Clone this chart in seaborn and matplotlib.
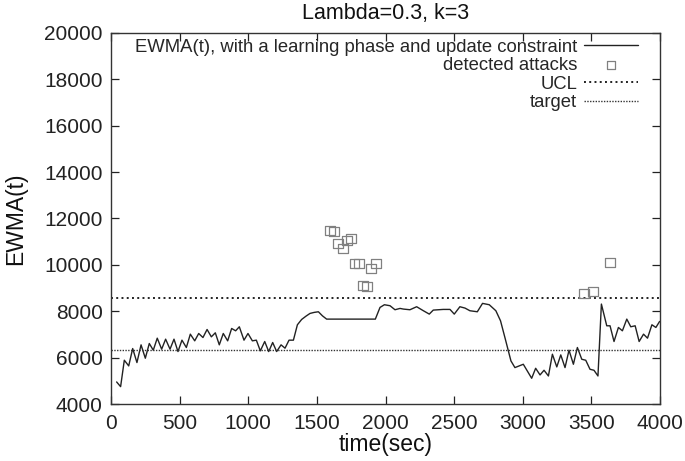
import matplotlib
matplotlib.use("Agg")
import matplotlib.pyplot as plt
import seaborn as sns
import pandas as pd

# ---- data ----
ewma_t = [41, 70, 97, 129, 158, 189, 219, 250, 279, 308, 337, 369, 398, 430, 459,
          488, 517, 549, 578, 610, 639, 670, 700, 731, 760, 789, 818, 850, 879, 908,
          935, 969, 998, 1030, 1059, 1088, 1120, 1149, 1178, 1207, 1239, 1268, 1297,
          1329, 1358, 1389, 1421, 1450, 1480, 1511, 1541, 1571, 1650, 1750, 1850,
          1926, 1960, 1992, 2033, 2069, 2106, 2130, 2178, 2227, 2276, 2319, 2348,
          2421, 2470, 2501, 2542, 2579, 2615, 2669, 2707, 2756, 2804, 2838, 2870,
          2914, 2943, 3004, 3065, 3094, 3126, 3155, 3187, 3216, 3248, 3277, 3308,
          3337, 3369, 3398, 3430, 3459, 3490, 3519, 3548, 3573, 3612, 3636, 3665,
          3697, 3726, 3758, 3787, 3819, 3848, 3880, 3909, 3941, 3970, 3997]
ewma_v = [4951, 4749, 5888, 5643, 6392, 5787, 6551, 5974, 6609, 6320, 6839, 6364,
          6796, 6364, 6796, 6262, 6753, 6436, 7012, 6724, 7041, 6867, 7214, 6897,
          7070, 6551, 7041, 6724, 7257, 7157, 7330, 6753, 7041, 6724, 6753, 6292,
          6695, 6262, 6652, 6262, 6551, 6407, 6753, 6753, 7416, 7646, 7790, 7906,
          7950, 7978, 7800, 7661, 7661, 7661, 7661, 7661, 8165, 8281, 8238, 8065,
          8122, 8094, 8065, 8195, 8022, 7877, 8050, 8079, 8079, 7877, 8195, 8137,
          8022, 7978, 8339, 8281, 8022, 7589, 6867, 5858, 5570, 5714, 5109, 5541,
          5253, 5455, 5209, 6147, 5599, 6118, 5570, 6320, 5714, 6436, 5930, 5887,
          5498, 5455, 5209, 8310, 7373, 7373, 6695, 7301, 7157, 7661, 7330, 7373,
          6695, 7012, 6839, 7416, 7301, 7560]

attack_t = [1596, 1625, 1654, 1690, 1720, 1749, 1775, 1807, 1836, 1865, 1894, 1931,
            3446, 3512, 3636]
attack_v = [11480, 11440, 10920, 10700, 11050, 11130, 10050, 10050, 9100, 9060,
            9840, 10050, 8760, 8840, 10100]

ucl = 8580
target = 6330

x_ticks = [0, 500, 1000, 1500, 2000, 2500, 3000, 3500, 4000]
y_ticks = [4000, 6000, 8000, 10000, 12000, 14000, 16000, 18000, 20000]

ewma_df = pd.DataFrame({"t": ewma_t, "v": ewma_v})
attack_df = pd.DataFrame({"t": attack_t, "v": attack_v})

sns.set_theme(style="ticks")
plt.rcParams["font.family"] = ["Liberation Sans", "DejaVu Sans"]

fig = plt.figure(figsize=(6.85, 4.61), dpi=100)
ax = fig.add_axes([111 / 685, 1 - 404 / 461, 549 / 685, 371 / 461])

sns.lineplot(data=ewma_df, x="t", y="v", ax=ax, color="#222222", linewidth=1.0,
             label="EWMA(t), with a learning phase and update constraint",
             sort=False, estimator=None)
sns.scatterplot(data=attack_df, x="t", y="v", ax=ax, marker="s", s=44,
                facecolor="none", edgecolor="#808080", linewidth=0.9,
                label="detected attacks", zorder=3)
ax.axhline(ucl, color="#222222", linewidth=1.4, linestyle=(0, (1, 1.7)), label="UCL")
ax.axhline(target, color="#333333", linewidth=1.0, linestyle=(0, (1, 1.0)), label="target")

ax.set_xlim(0, 4000)
ax.set_ylim(4000, 20000)
ax.set_xticks(x_ticks)
ax.set_yticks(y_ticks)
ax.tick_params(direction="in", length=6, width=0.9, labelsize=15, top=True,
               right=True, colors="#222222", pad=6)
ax.tick_params(axis="x", pad=7)
for sp in ax.spines.values():
    sp.set_visible(True)
    sp.set_linewidth(1.0)
    sp.set_color("#333333")

ax.set_xlabel("time(sec)", fontsize=16.5, labelpad=0, color="#111111")
ax.set_ylabel("EWMA(t)", fontsize=16.5, labelpad=12, color="#111111")
ax.set_title("Lambda=0.3, k=3", fontsize=15.5, pad=10, color="#111111")

leg = ax.legend(loc="upper right", bbox_to_anchor=(0.96, 0.985), frameon=False,
                markerfirst=False, fontsize=13.3, handlelength=2.9,
                handletextpad=0.4, labelspacing=0.08, borderaxespad=0,
                borderpad=0)
for h in leg.legend_handles:
    try:
        h.set_sizes([30])
    except AttributeError:
        pass

fig.savefig("out.png", dpi=100)
